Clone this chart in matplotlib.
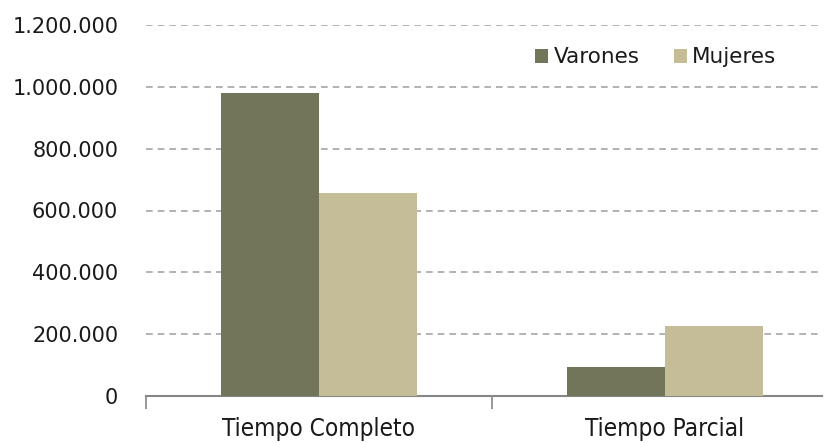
import matplotlib
matplotlib.use("Agg")
import matplotlib.pyplot as plt
from matplotlib.ticker import FuncFormatter, FixedLocator
import numpy as np

categories = ["Tiempo Completo", "Tiempo Parcial"]
series_names = ["Varones", "Mujeres"]
varones = [980000, 95000]
mujeres = [655000, 228000]
yticks = [0, 200000, 400000, 600000, 800000, 1000000, 1200000]

colors = ["#72755A", "#C4BD97"]

plt.rcParams['font.family'] = ['DejaVu Sans']
fig = plt.figure(figsize=(8.24, 4.43), dpi=100)
ax = fig.add_axes([146/824, 47/443, (822-146)/824, (396-25)/443])

x = np.arange(len(categories))
w = 0.284
ax.bar(x - w/2, varones, width=w, color=colors[0], label=series_names[0], zorder=3)
ax.bar(x + w/2, mujeres, width=w, color=colors[1], label=series_names[1], zorder=3)

ax.set_ylim(0, 1200000)
ax.set_xlim(-0.5, 1.454)
ax.yaxis.set_major_locator(FixedLocator(yticks))
ax.yaxis.set_major_formatter(FuncFormatter(lambda v, p: f"{int(v):,}".replace(",", ".")))
for t in yticks[1:]:
    ax.axhline(t, color="#A6A6A6", linestyle=(0, (4, 3)), linewidth=1.2, zorder=1)

ax.tick_params(axis='y', length=0, pad=20, labelsize=15, labelcolor="#1a1a1a")
ax.set_xticks([-0.5, 0.5])
ax.set_xticklabels([])
ax.set_xticks(x, minor=True)
ax.set_xticklabels(categories, minor=True, fontsize=17.5, fontstretch='condensed')
ax.tick_params(axis='x', which='major', length=9, color="#868686", width=1.2)
ax.tick_params(axis='x', which='minor', length=0, pad=15, labelcolor="#1a1a1a")

for s in ['left', 'right', 'top']:
    ax.spines[s].set_visible(False)
ax.spines['bottom'].set_color("#868686")
ax.spines['bottom'].set_linewidth(1.5)

leg = ax.legend(loc='upper right', bbox_to_anchor=(0.955, 0.98), ncol=2, frameon=False,
                fontsize=15.5, handlelength=0.6, handleheight=0.6, handletextpad=0.25,
                columnspacing=1.6, borderaxespad=0.3)
for t in leg.get_texts():
    t.set_color("#1a1a1a")

fig.savefig("out.png", dpi=100)
